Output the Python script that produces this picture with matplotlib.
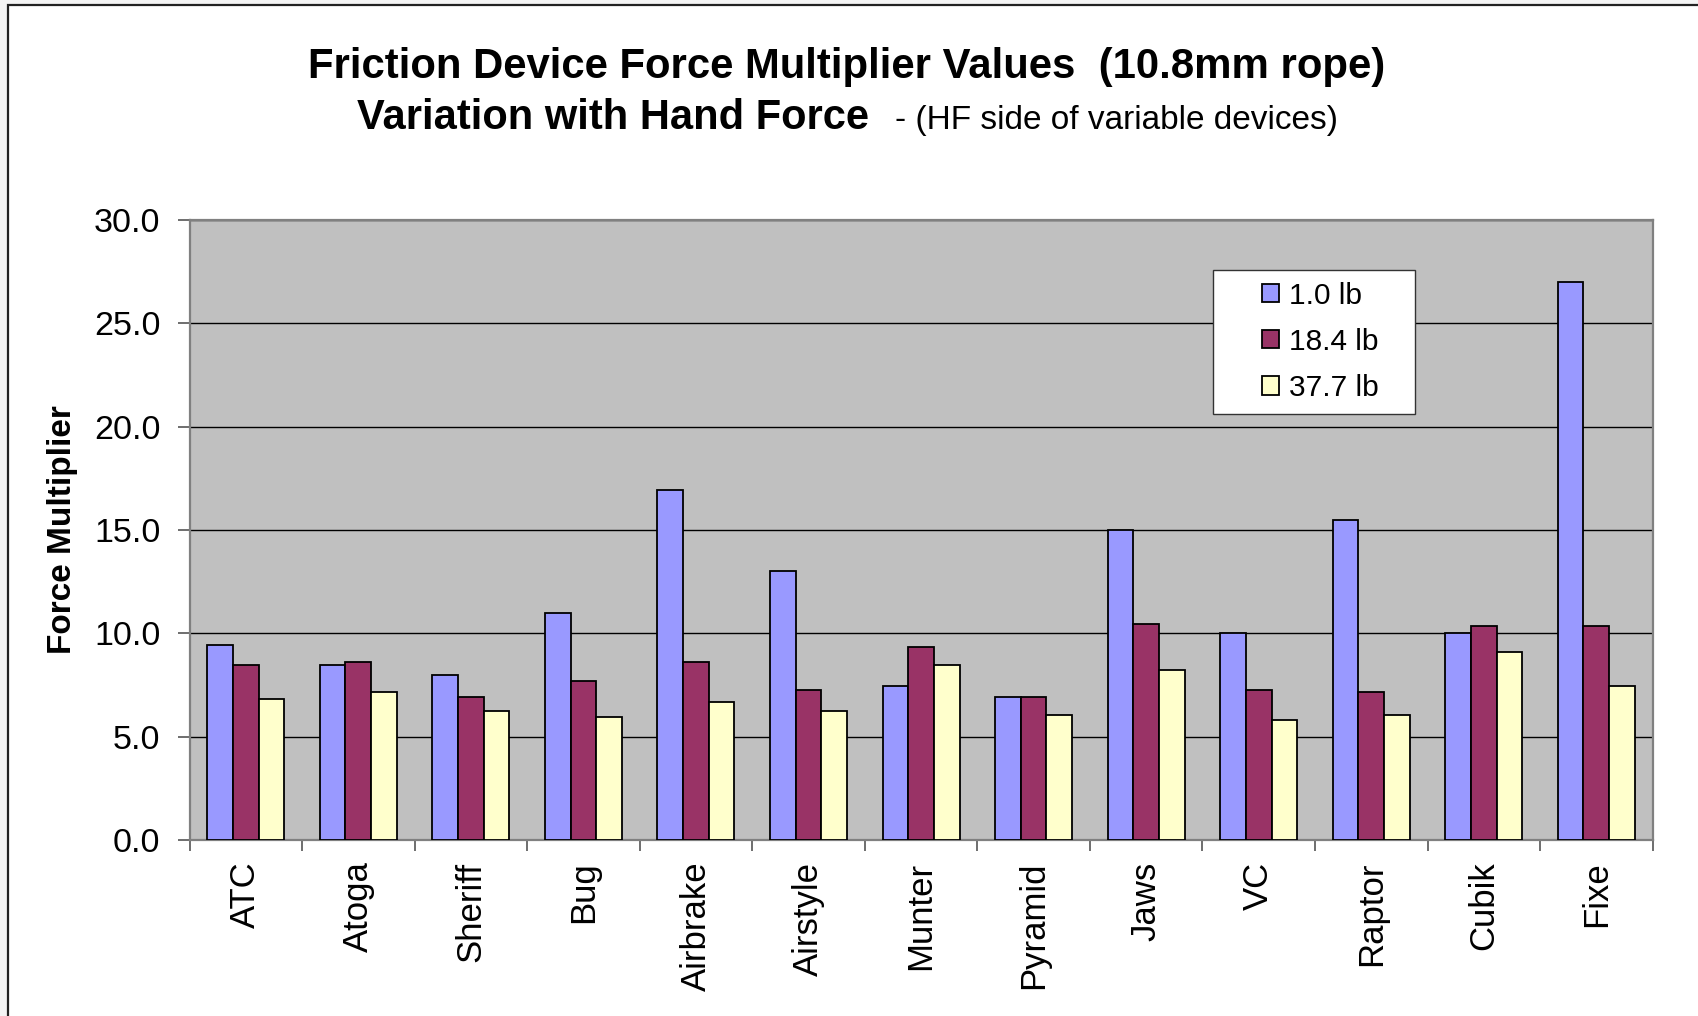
import numpy as np
import matplotlib
matplotlib.use('Agg')
import matplotlib.pyplot as plt
from matplotlib.patches import Rectangle
from matplotlib.ticker import FixedLocator, FormatStrFormatter

plt.rcParams['font.family'] = ['Liberation Sans', 'DejaVu Sans']

devices = ['ATC', 'Atoga', 'Sheriff', 'Bug', 'Airbrake', 'Airstyle', 'Munter',
           'Pyramid', 'Jaws', 'VC', 'Raptor', 'Cubik', 'Fixe']
hf_1_0 = [9.45, 8.45, 8.0, 11.0, 16.95, 13.0, 7.45, 6.9, 15.0, 10.0, 15.5, 10.0, 27.0]
hf_18_4 = [8.45, 8.6, 6.9, 7.7, 8.6, 7.25, 9.35, 6.9, 10.45, 7.25, 7.15, 10.35, 10.35]
hf_37_7 = [6.8, 7.15, 6.25, 5.95, 6.7, 6.25, 8.45, 6.05, 8.25, 5.8, 6.05, 9.1, 7.45]
series_labels = ['1.0 lb', '18.4 lb', '37.7 lb']
colors = ['#9999FF', '#993366', '#FFFFCC']

W, H = 1698, 1016
AX_L, AX_R, AX_T, AX_B = 189.5, 1652.6, 220.0, 840.0
AX_W, AX_H = AX_R - AX_L, AX_B - AX_T

def ax_x(px):
    return (px - AX_L) / AX_W

def ax_y(py):
    return (AX_B - py) / AX_H

fig = plt.figure(figsize=(W / 100, H / 100), dpi=100, facecolor='#f4f4f4')

# white chart area with its border (cropped on the right and bottom)
fig.patches.append(Rectangle((8 / W, -0.05), 1.1, (H - 5) / H + 0.05,
                             transform=fig.transFigure, facecolor='white',
                             edgecolor='#222222', linewidth=1.6, zorder=-10))

ax = fig.add_axes([AX_L / W, 1 - AX_B / H, AX_W / W, AX_H / H])
ax.set_zorder(1)
ax.set_facecolor('#C0C0C0')

x = np.arange(len(devices))
bw = 0.228
for i, (vals, lab, c) in enumerate(zip([hf_1_0, hf_18_4, hf_37_7], series_labels, colors)):
    ax.bar(x + (i - 1) * bw, vals, bw, color=c, edgecolor='black', linewidth=1.3,
           label=lab, zorder=3)

ax.set_xlim(-0.5, len(devices) - 0.5)
ax.set_ylim(0, 30)
ax.set_yticks(np.arange(0, 30.1, 5))
ax.yaxis.set_major_formatter(FormatStrFormatter('%.1f'))
ax.yaxis.grid(True, color='black', linewidth=1.0, zorder=1)
ax.set_axisbelow(True)

ax.set_xticks(x)
ax.set_xticklabels(devices, rotation=90, fontsize=25)
ax.tick_params(axis='x', which='major', length=0, pad=15.5)
ax.xaxis.set_minor_locator(FixedLocator(np.arange(-0.5, len(devices), 1.0)))
ax.tick_params(axis='x', which='minor', length=8, width=1.2, color='#555555', direction='out')
ax.tick_params(axis='y', labelsize=24.5, length=9, width=1.2, color='#555555', pad=12)

for s in ax.spines.values():
    s.set_color('#808080')
    s.set_linewidth(1.6)

ax.set_ylabel('Force Multiplier', fontsize=24, fontweight='bold')
ax.yaxis.set_label_coords(ax_x(78), 0.5)

# legend box drawn separately so the padding can match
ax.add_patch(Rectangle((ax_x(1213), ax_y(414)), (1415 - 1213) / AX_W, (414 - 270) / AX_H,
                       transform=ax.transAxes, facecolor='white', edgecolor='#333333',
                       linewidth=1.0, zorder=5))
leg = ax.legend(loc='upper left', bbox_to_anchor=(ax_x(1262), ax_y(281.5)),
                borderaxespad=0, borderpad=0, fontsize=21.5, frameon=False,
                handlelength=0.58, handleheight=0.58, handletextpad=0.33,
                labelspacing=0.61)
leg.set_zorder(6)
for h in leg.legend_handles:
    h.set_linewidth(1.3)

fig.text(847 / W, 1 - 78 / H, 'Friction Device Force Multiplier Values  (10.8mm rope)',
         ha='center', va='baseline', fontsize=30.2, fontweight='bold')
fig.text(869 / W, 1 - 129 / H, 'Variation with Hand Force',
         ha='right', va='baseline', fontsize=30, fontweight='bold')
fig.text(895 / W, 1 - 129 / H, '- (HF side of variable devices)',
         ha='left', va='baseline', fontsize=24)

fig.savefig('out.png', dpi=100, facecolor=fig.get_facecolor())
